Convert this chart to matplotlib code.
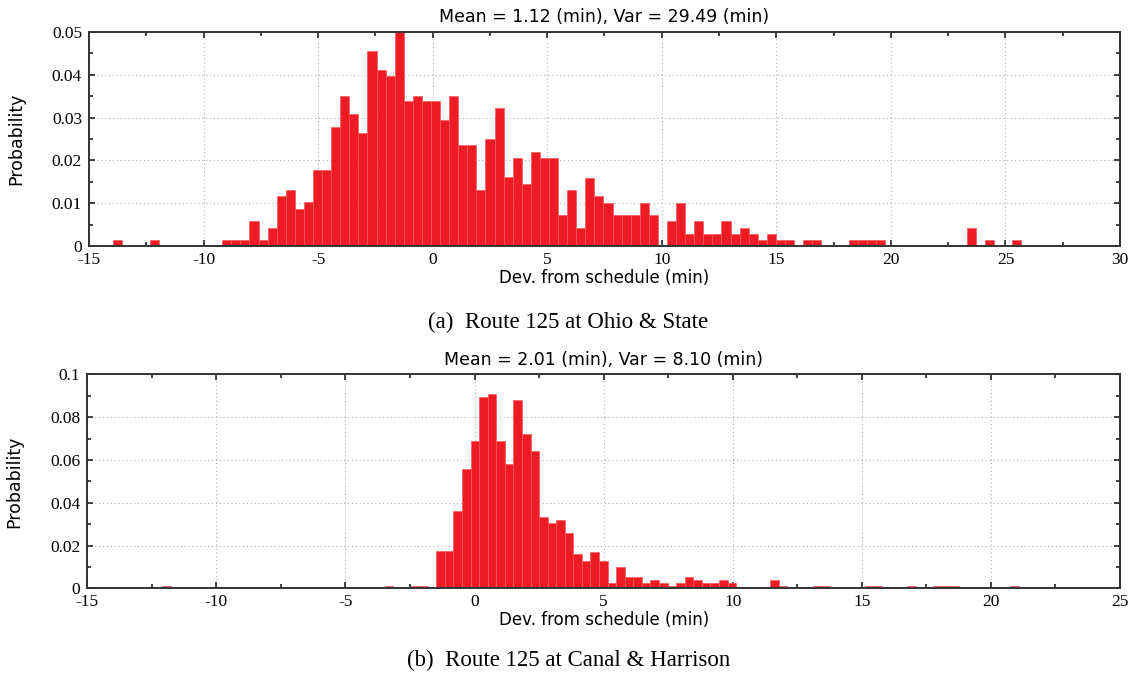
"""
Schedule deviation histograms, route 125 (two stops)
"""

import numpy as np
import matplotlib.pyplot as plt
from matplotlib.ticker import MultipleLocator, FuncFormatter

plt.rcParams['axes.unicode_minus'] = False

# (a) Ohio & State: 100 bins between min and max deviation
ohio_range = (-13.94, 25.68)
ohio_prob = [
    0.0014, 0, 0, 0, 0.0014, 0, 0, 0, 0, 0,
    0, 0, 0.0014, 0.0014, 0.0014, 0.0058, 0.0014, 0.0043, 0.0117, 0.0131,
    0.0087, 0.0102, 0.0177, 0.0177, 0.0278, 0.0351, 0.0309, 0.0264, 0.0455, 0.0411,
    0.0397, 0.0500, 0.0338, 0.0351, 0.0338, 0.0338, 0.0295, 0.0351, 0.0235, 0.0235,
    0.0131, 0.0249, 0.0323, 0.0161, 0.0206, 0.0145, 0.0220, 0.0206, 0.0206, 0.0072,
    0.0131, 0.0043, 0.0159, 0.0117, 0.0101, 0.0072, 0.0072, 0.0072, 0.0101, 0.0072,
    0, 0.0058, 0.0101, 0.0029, 0.0058, 0.0029, 0.0029, 0.0058, 0.0029, 0.0043,
    0.0029, 0.0014, 0.0029, 0.0014, 0.0014, 0, 0.0014, 0.0014, 0, 0,
    0, 0.0014, 0.0014, 0.0014, 0.0014, 0, 0, 0, 0, 0,
    0, 0, 0, 0, 0.0043, 0, 0.0014, 0, 0, 0.0014,
]
ohio_title = 'Mean = 1.12 (min), Var = 29.49 (min)'

# (b) Canal & Harrison
canal_range = (-12.10, 21.08)
canal_prob = [
    0.0012, 0, 0, 0, 0, 0, 0, 0, 0, 0,
    0, 0, 0, 0, 0, 0, 0, 0, 0, 0,
    0, 0, 0, 0, 0, 0, 0.0012, 0, 0, 0.0012,
    0.0012, 0, 0.0174, 0.0174, 0.0363, 0.0556, 0.0688, 0.0896, 0.0907, 0.0688,
    0.0583, 0.0880, 0.0720, 0.0642, 0.0335, 0.0307, 0.0319, 0.0257, 0.0161, 0.0128,
    0.0171, 0.0128, 0.0025, 0.0098, 0.0055, 0.0055, 0.0025, 0.0040, 0.0025, 0.0012,
    0.0025, 0.0055, 0.0040, 0.0025, 0.0025, 0.0040, 0.0025, 0, 0, 0,
    0, 0.0040, 0.0012, 0, 0, 0, 0.0012, 0.0012, 0, 0,
    0, 0, 0.0012, 0.0012, 0, 0, 0, 0.0012, 0, 0,
    0.0012, 0.0012, 0.0012, 0, 0, 0, 0, 0, 0, 0.0012,
]
canal_title = 'Mean = 2.01 (min), Var = 8.10 (min)'

captions = ['(a)  Route 125 at Ohio & State', '(b)  Route 125 at Canal & Harrison']

sans = 'DejaVu Sans'
serif = 'Liberation Serif'


def draw_hist(ax, rng, prob, title, xlim, ylim, ystep):
    edges = np.linspace(rng[0], rng[1], len(prob) + 1)
    ax.bar(edges[:-1], prob, width=np.diff(edges), align='edge',
           color='#ed1c24', edgecolor='#f2585d', linewidth=0.5, zorder=2)
    ax.set_xlim(*xlim)
    ax.set_ylim(*ylim)
    ax.xaxis.set_major_locator(MultipleLocator(5))
    ax.xaxis.set_minor_locator(MultipleLocator(2.5))
    ax.yaxis.set_major_locator(MultipleLocator(ystep))
    ax.yaxis.set_minor_locator(MultipleLocator(ystep / 2))
    ax.yaxis.set_major_formatter(FuncFormatter(lambda v, p: f'{round(v, 4):g}'))
    ax.grid(True, which='major', linestyle=(0, (1, 2.5)), color='#b0b0b0',
            linewidth=0.8, zorder=0)
    ax.tick_params(which='both', direction='in', top=True, right=True,
                   color='#222222', width=1.2, labelsize=12.5)
    ax.tick_params(axis='x', pad=4)
    ax.tick_params(axis='y', pad=5)
    ax.tick_params(which='major', length=4)
    ax.tick_params(which='minor', length=3)
    for lab in ax.get_xticklabels() + ax.get_yticklabels():
        lab.set_fontfamily(serif)
    for s in ax.spines.values():
        s.set_linewidth(1.4)
        s.set_color('#333333')
        s.set_zorder(3)
    ax.set_title(title, fontsize=12.5, family=sans, pad=7)
    ax.set_xlabel('Dev. from schedule (min)', fontsize=12, family=sans, labelpad=1)
    ax.set_ylabel('Probability', fontsize=12.5, family=sans)
    ax.yaxis.set_label_coords(-0.062, 0.5)


fig = plt.figure(figsize=(11.32, 6.75), dpi=100)
ax1 = fig.add_axes([0.0786, 0.6356, 0.9108, 0.317])
ax2 = fig.add_axes([0.0771, 0.1284, 0.9123, 0.317])

draw_hist(ax1, ohio_range, ohio_prob, ohio_title, (-15, 30), (0, 0.05), 0.01)
draw_hist(ax2, canal_range, canal_prob, canal_title, (-15, 25), (0, 0.1), 0.02)

fig.text(0.502, 1 - 322 / 675, captions[0], ha='center', va='center',
         fontsize=16.5, family=serif)
fig.text(0.502, 1 - 660 / 675, captions[1], ha='center', va='center',
         fontsize=16.5, family=serif)

fig.savefig('out.png', dpi=100)
